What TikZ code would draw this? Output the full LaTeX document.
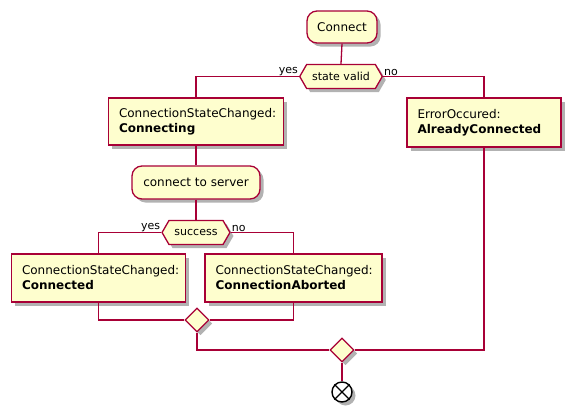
\documentclass[tikz,border=0pt]{standalone}
\usepackage{fontspec}
\setmainfont{DejaVu Sans}
\usetikzlibrary{shapes.geometric,shapes.symbols,shadows}
\definecolor{umlfill}{HTML}{FEFECE}
\definecolor{umlline}{HTML}{A80036}
\tikzset{
  shad/.style={drop shadow={shadow xshift=3.5pt,shadow yshift=-3.5pt,fill=black,opacity=0.3}},
  actbox/.style={draw=umlline,fill=umlfill,line width=1.3pt,shad,rectangle,
    inner xsep=10.5pt,inner ysep=0pt,align=left,font=\fontsize{12}{15}\selectfont},
  roundact/.style={draw=umlline,fill=umlfill,line width=1.3pt,shad,rectangle,
    rounded corners=10pt,inner sep=0pt,font=\fontsize{12}{15}\selectfont},
  hexa/.style={draw=umlline,fill=umlfill,line width=1.3pt,shad,signal,
    signal to=west and east,signal pointer angle=120,inner xsep=5.5pt,inner ysep=0pt,
    minimum height=24pt,font=\fontsize{11}{13}\selectfont},
  merge/.style={draw=umlline,fill=umlfill,line width=1.3pt,shad,diamond,
    minimum width=24pt,minimum height=24pt,inner sep=0pt},
  conn/.style={draw=umlline,line width=1.3pt},
  lbl/.style={font=\fontsize{11}{13}\selectfont,inner sep=1pt},
}
\begin{document}
\begin{tikzpicture}[x=1pt,y=-1pt]
\useasboundingbox (0,0) rectangle (576,418);
\node[roundact,minimum width=70pt,minimum height=32pt] (connect) at (342,27) {Connect};
\node[hexa] (sv) at (341,76.5) {state valid};
\node[actbox,text width=154pt,minimum height=47pt] (cing) at (196,121.5)
  {ConnectionStateChanged:\\\textbf{Connecting}};
\node[actbox,text width=133pt,minimum height=49pt] (err) at (484,122.5)
  {ErrorOccured:\\\textbf{AlreadyConnected}};
\node[roundact,minimum width=128pt,minimum height=33pt] (cts) at (196,182.5) {connect to server};
\node[hexa] (succ) at (196,232.5) {success};
\node[actbox,text width=153pt,minimum height=48pt] (cted) at (98.5,278)
  {ConnectionStateChanged:\\\textbf{Connected}};
\node[actbox,text width=156pt,minimum height=48pt] (abort) at (293.5,278)
  {ConnectionStateChanged:\\\textbf{ConnectionAborted}};
\node[merge] (m1) at (197,320) {};
\node[merge] (m2) at (342,350) {};
\node[circle,draw=black,fill=white,line width=1.4pt,minimum size=20pt,inner sep=0pt,shad] (end) at (342,392) {};
\draw[black,line width=1.4pt] (end.45) -- (end.225) (end.135) -- (end.315);

\draw[conn] (connect.south) -- (sv.north);
\draw[conn] (sv.west) -| (cing.north);
\draw[conn] (sv.east) -| (err.north);
\node[lbl,anchor=south east] (yes1) at (sv.west) {yes};
\node[lbl,anchor=south west] (no1) at (sv.east) {no};
\draw[conn] (cing.south) -- (cts.north);
\draw[conn] (cts.south) -- (succ.north);
\draw[conn] (succ.west) -| (cted.north);
\draw[conn] (succ.east) -| (abort.north);
\node[lbl,anchor=south east] (yes2) at (succ.west) {yes};
\node[lbl,anchor=south west] (no2) at (succ.east) {no};
\draw[conn] (cted.south) |- (m1.west);
\draw[conn] (abort.south) |- (m1.east);
\draw[conn] (m1.south) |- (m2.west);
\draw[conn] (err.south) |- (m2.east);
\draw[conn] (m2.south) -- (end.north);
\end{tikzpicture}
\end{document}
